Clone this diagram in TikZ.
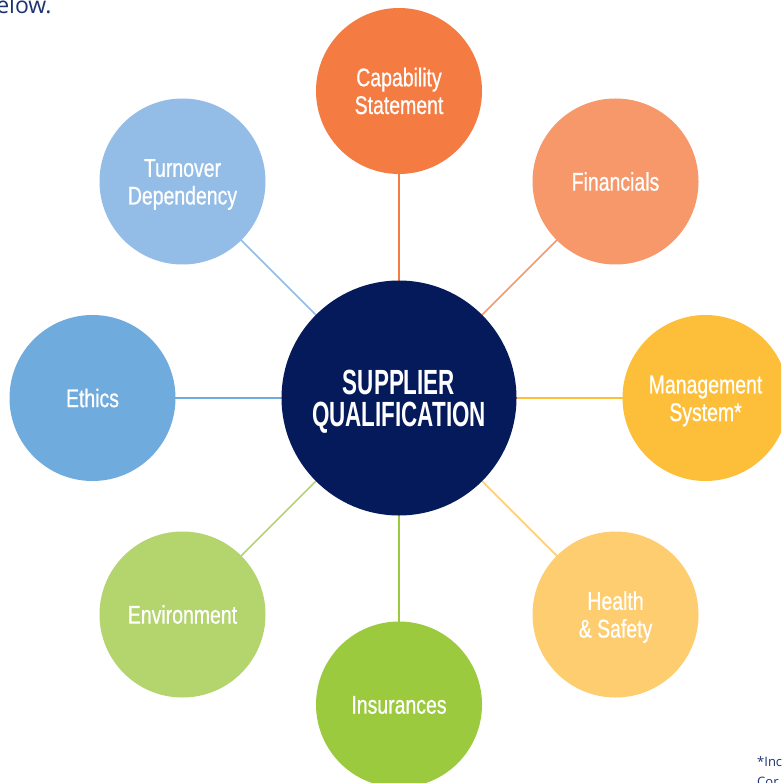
\documentclass[tikz,border=0pt]{standalone}
\usepackage{fontspec}
\newfontfamily\labelfont[FakeStretch=0.76,FakeBold=0.7]{Liberation Sans}
\newfontfamily\titlefont[FakeStretch=0.64]{Liberation Sans Bold}
\newfontfamily\bodyfont{Open Sans}
\definecolor{navy}{HTML}{051A5A}
\definecolor{txtnavy}{HTML}{1E3370}
\definecolor{capcol}{HTML}{F47B42}
\definecolor{fincol}{HTML}{F7986A}
\definecolor{mgmtcol}{HTML}{FDBF3A}
\definecolor{hscol}{HTML}{FECD70}
\definecolor{inscol}{HTML}{9BCA3E}
\definecolor{envcol}{HTML}{B4D56E}
\definecolor{ethcol}{HTML}{6FABDC}
\definecolor{turncol}{HTML}{93BDE6}
\pgfdeclarelayer{bglayer}
\pgfdeclarelayer{linelayer}
\pgfsetlayers{bglayer,linelayer,main}
\tikzset{
  outer/.style={circle, fill=#1, draw=none, minimum size=166pt, inner sep=0pt,
    text=white, align=center, font=\labelfont\fontsize{25.6}{27.7}\selectfont,
    text depth=0pt},
  twoline/.style={text height=46pt},
  oneline/.style={text height=18.3pt},
  hub/.style={circle, fill=navy, draw=none, minimum size=235pt, inner sep=0pt,
    text=white, align=center, font=\titlefont\fontsize{35}{32}\selectfont,
    text depth=0pt, text height=57pt},
  spoke/.style={line width=1.5pt, draw=#1},
  fragment/.style={text=txtnavy, inner sep=0pt, anchor=base west}
}
\begin{document}
\begin{tikzpicture}[x=1pt,y=-1pt]
\begin{pgfonlayer}{bglayer}
\fill[white] (0,0) rectangle (781,783);
\end{pgfonlayer}
\useasboundingbox (0,0) rectangle (781,783);
\clip (0,0) rectangle (781,783);
\node[hub] (hub) at (399,398) {SUPPLIER\\QUALIFICATION};
\node[outer=capcol, twoline] (cap) at (399,91) {Capability\\Statement};
\node[outer=fincol, oneline] (fin) at (615.5,181.5) {Financials};
\node[outer=mgmtcol, twoline] (mgmt) at (705.5,398) {Management\\System*};
\node[outer=hscol, twoline] (hs) at (615.5,614.5) {Health\\\&~Safety};
\node[outer=inscol, oneline] (ins) at (399,704.5) {Insurances};
\node[outer=envcol, oneline] (env) at (182.5,614.5) {Environment};
\node[outer=ethcol, oneline] (eth) at (92.5,398) {Ethics};
\node[outer=turncol, twoline] (turn) at (182.5,181.5) {Turnover\\Dependency};
\begin{pgfonlayer}{linelayer}
\draw[spoke=capcol] (hub.center) -- (cap.center);
\draw[spoke=fincol] (hub.center) -- (fin.center);
\draw[spoke=mgmtcol] (hub.center) -- (mgmt.center);
\draw[spoke=hscol] (hub.center) -- (hs.center);
\draw[spoke=inscol] (hub.center) -- (ins.center);
\draw[spoke=envcol] (hub.center) -- (env.center);
\draw[spoke=ethcol] (hub.center) -- (eth.center);
\draw[spoke=turncol] (hub.center) -- (turn.center);
\end{pgfonlayer}
\node[fragment, font=\bodyfont\fontsize{23}{27}\selectfont] (below) at (-18,13.5) {below.};
\node[fragment, font=\bodyfont\fontsize{13}{19}\selectfont] (incl) at (757,766.5) {*Incl};
\node[fragment, font=\bodyfont\fontsize{13}{19}\selectfont] (cor) at (757,786) {Cor};
\end{tikzpicture}
\end{document}
